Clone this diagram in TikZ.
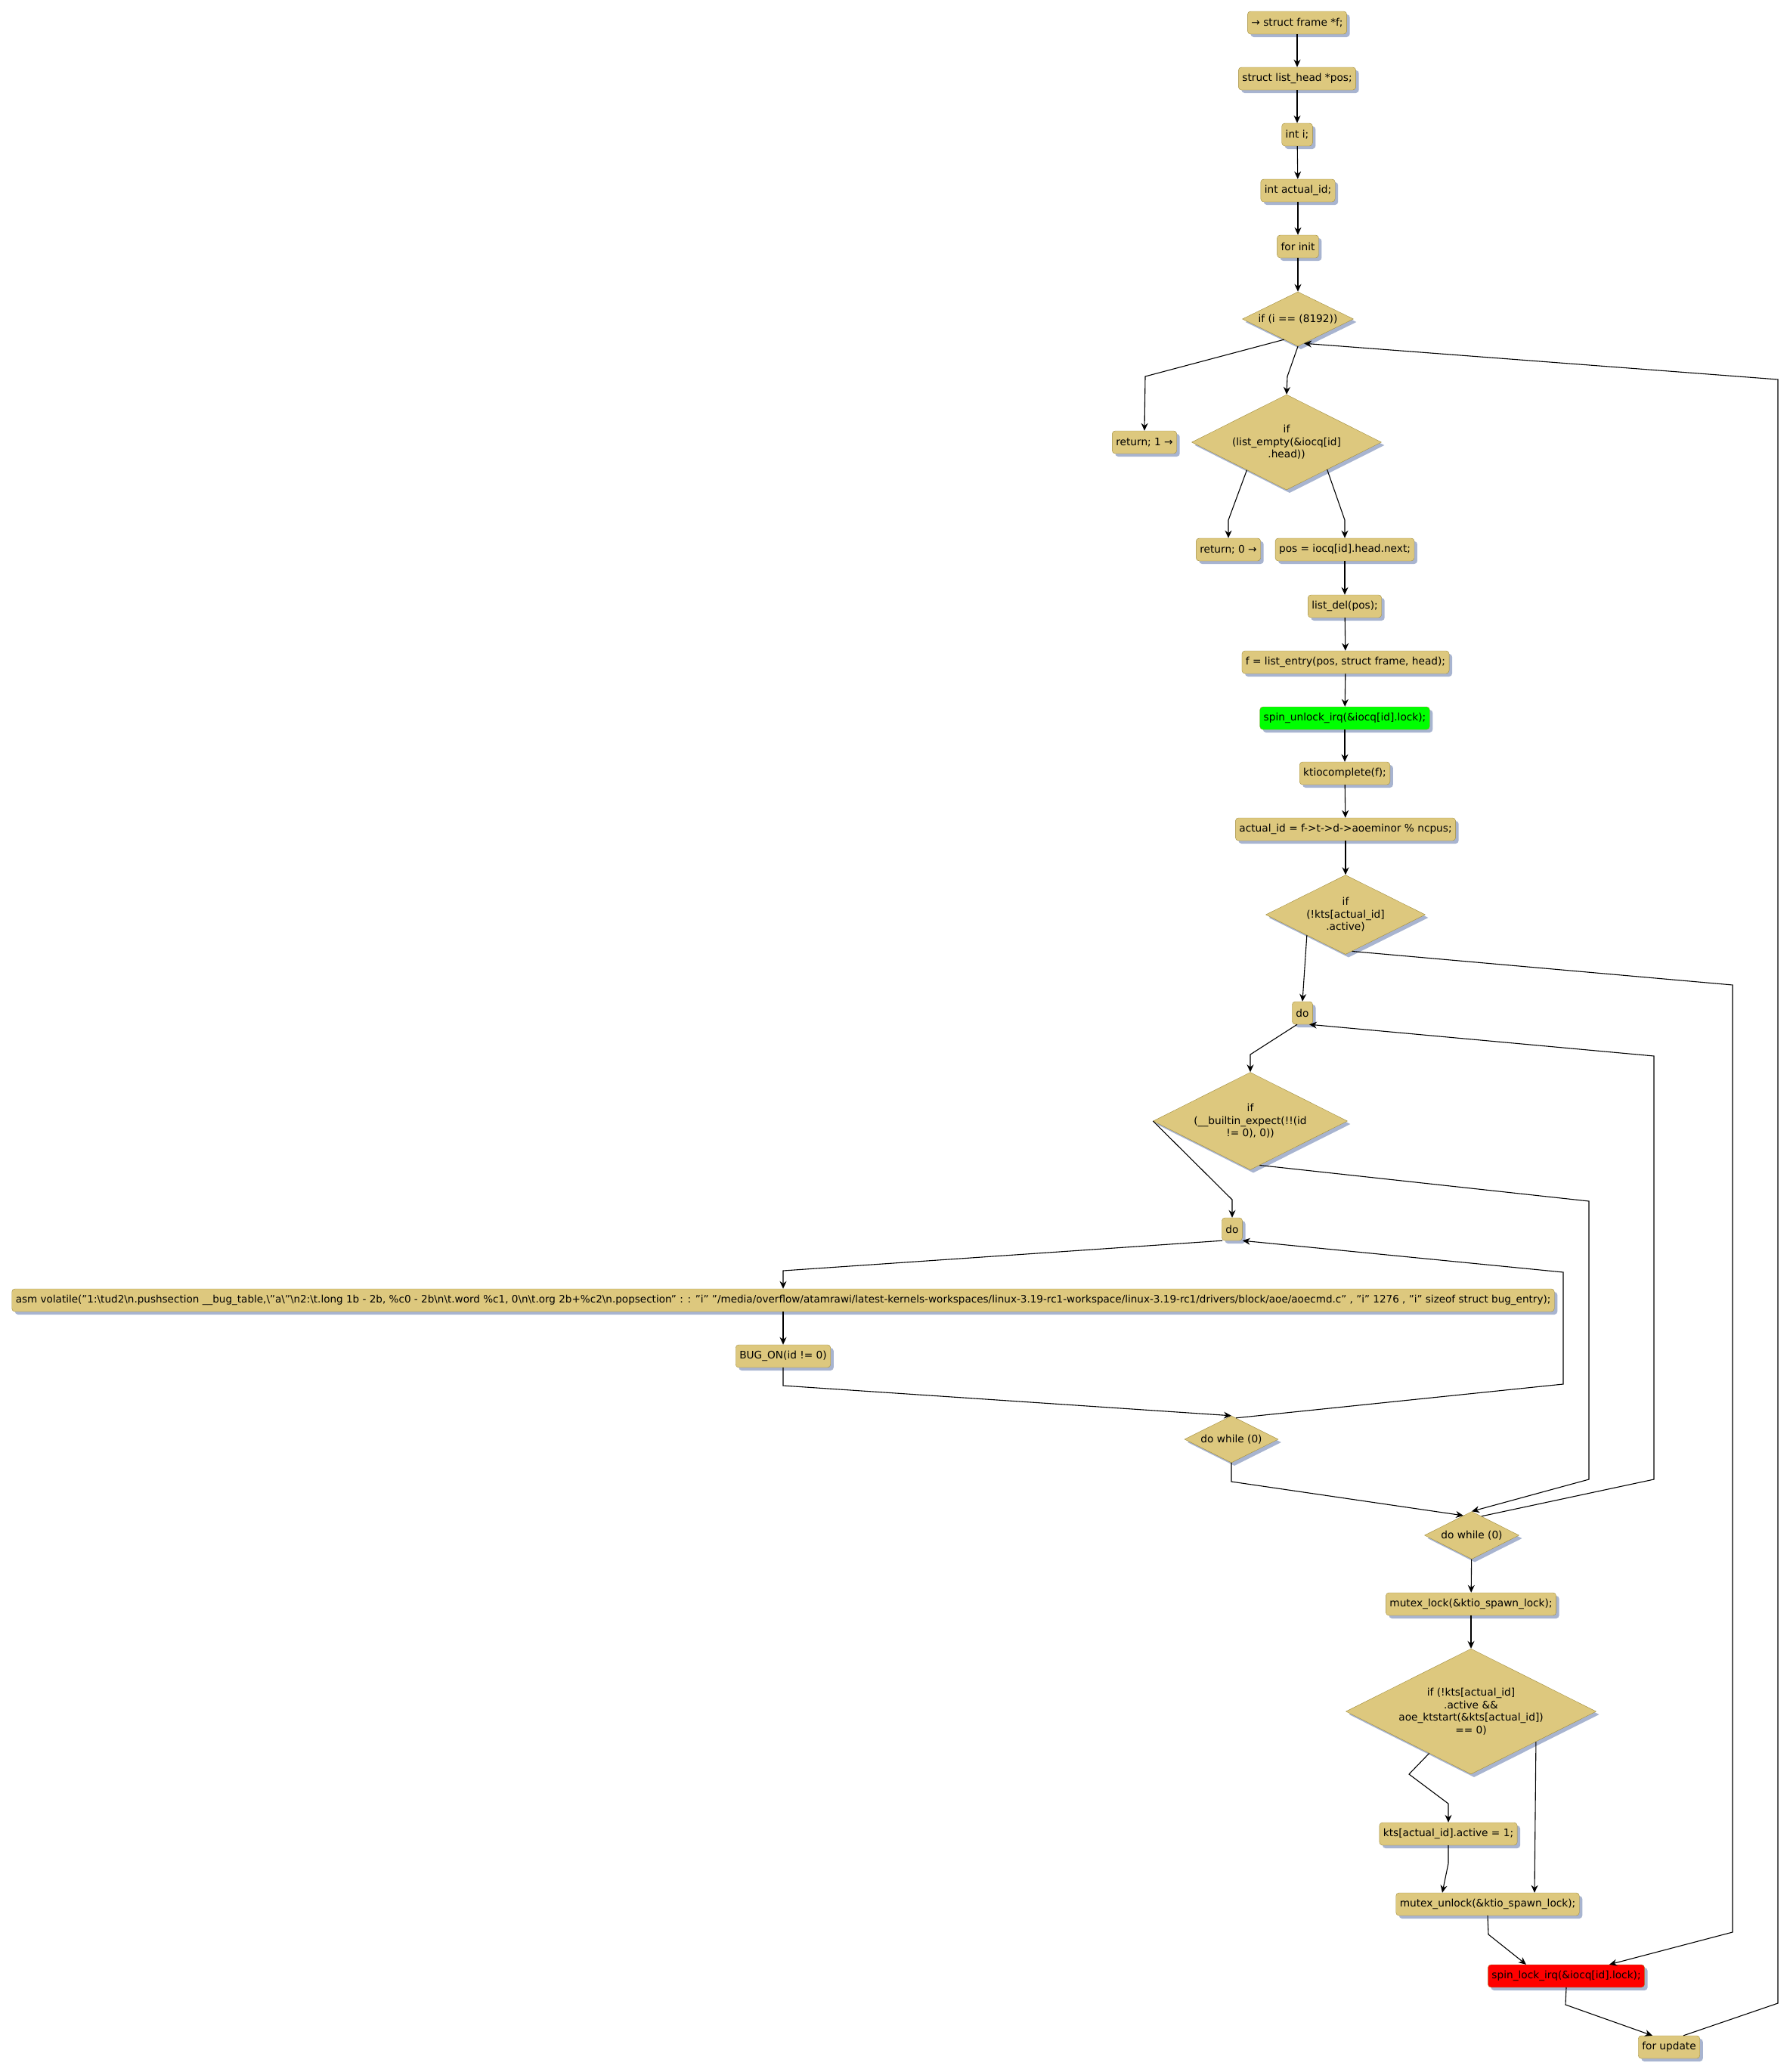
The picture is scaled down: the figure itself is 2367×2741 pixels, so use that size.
\documentclass[tikz,border=0pt]{standalone}
\usepackage{fontspec}
\setmainfont{DejaVu Sans}
\usetikzlibrary{arrows.meta,shapes.geometric,shadows}
\definecolor{boxfill}{RGB}{221,200,126}
\definecolor{boxline}{RGB}{160,140,60}
\definecolor{boxshade}{RGB}{168,180,208}
\newcommand{\bsl}{\textbackslash}
\tikzset{
  stmt/.style={draw=boxline, fill=boxfill, rounded corners=4pt, minimum height=30pt,
    inner xsep=5pt, inner ysep=0pt,
    drop shadow={shadow xshift=4pt, shadow yshift=-4pt, fill=boxshade, opacity=1}},
  cond/.style={diamond, shape aspect=2, draw=boxline, fill=boxfill, inner sep=0pt, align=center,
    drop shadow={shadow xshift=4pt, shadow yshift=-4pt, fill=boxshade, opacity=1}},
  flow/.style={-{Stealth[length=10pt,width=9pt]}, line width=1.1pt}
}

\begin{document}
\begin{tikzpicture}[x=1pt, y=-1pt, every node/.style={font=\fontsize{13.7}{16.5}\selectfont}]
\useasboundingbox (0,0) rectangle (2367,2741);

\node[stmt] (frame) at (1716,30) {→ struct frame *f;};
\node[stmt] (pos) at (1716,104) {struct list\_head *pos;};
\node[stmt] (inti) at (1716,178) {int i;};
\node[stmt] (actid) at (1717,252) {int actual\_id;};
\node[stmt] (forinit) at (1717,326) {for init};
\node[cond, minimum width=147pt, minimum height=72pt] (ifmax) at (1717,422) {if (i == (8192))};
\node[stmt] (ret1) at (1514,585) {return; 1 →};
\node[cond, minimum width=251pt, minimum height=126pt] (ifempty) at (1702,585) {if\\(list\_empty(\&iocq[id]\\.head))};
\node[stmt] (ret0) at (1625,727) {return; 0 →};
\node[stmt] (posnext) at (1779,727) {pos = iocq[id].head.next;};
\node[stmt] (listdel) at (1779,802) {list\_del(pos);};
\node[stmt] (fentry) at (1780,876) {f = list\_entry(pos, struct frame, head);};
\node[stmt, fill=green] (unlock) at (1779,950) {spin\_unlock\_irq(\&iocq[id].lock);};
\node[stmt] (ktio) at (1779,1023) {ktiocomplete(f);};
\node[stmt] (actset) at (1780,1097) {actual\_id = f->t->d->aoeminor \% ncpus;};
\node[cond, minimum width=211pt, minimum height=105pt] (ifact) at (1780,1210) {if\\(!kts[actual\_id]\\.active)};
\node[stmt] (do1) at (1723,1340) {do};
\node[cond, minimum width=257pt, minimum height=129pt] (ifbug) at (1654,1483) {if\\(\_\_builtin\_expect(!!(id\\!= 0), 0))};
\node[stmt] (do2) at (1630,1626) {do};
\node[stmt, font=\fontsize{13.55}{16.5}\selectfont] (asmv) at (1036,1720) {asm volatile("1:\bsl tud2\bsl n.pushsection \_\_bug\_table,\bsl"a\bsl"\bsl n2:\bsl t.long 1b - 2b, \%c0 - 2b\bsl n\bsl t.word \%c1, 0\bsl n\bsl t.org 2b+\%c2\bsl n.popsection" : : "i" "/media/overflow/atamrawi/latest-kernels-workspaces/linux-3.19-rc1-workspace/linux-3.19-rc1/drivers/block/aoe/aoecmd.c" , "i" 1276 , "i" sizeof struct bug\_entry);};
\node[stmt] (bugon) at (1036,1794) {BUG\_ON(id != 0)};
\node[cond, minimum width=124pt, minimum height=62pt] (while2) at (1629,1904) {do while (0)};
\node[cond, minimum width=125pt, minimum height=63pt] (while1) at (1947,2031) {do while (0)};
\node[stmt] (mlock) at (1946,2122) {mutex\_lock(\&ktio\_spawn\_lock);};
\node[cond, minimum width=331pt, minimum height=166pt] (ifstart) at (1946,2264) {if (!kts[actual\_id]\\.active \&\&\\aoe\_ktstart(\&kts[actual\_id])\\== 0)};
\node[stmt] (ktsset) at (1916,2426) {kts[actual\_id].active = 1;};
\node[stmt] (munlock) at (1968,2519) {mutex\_unlock(\&ktio\_spawn\_lock);};
\node[stmt, fill=red] (lock) at (2072,2614) {spin\_lock\_irq(\&iocq[id].lock);};
\node[stmt] (forupd) at (2208,2708) {for update};

\draw[flow] (frame) -- (pos);
\draw[flow] (pos) -- (inti);
\draw[flow] (inti) -- (actid);
\draw[flow] (actid) -- (forinit);
\draw[flow] (forinit) -- (ifmax);
\draw[flow] (ifmax.236) -- (1515,498) -- (ret1.north);
\draw[flow] (ifmax.south) -- (1703,498) -- (ifempty.north);
\draw[flow] (ifempty.215) -- (1625,688) -- (ret0.north);
\draw[flow] (ifempty.-34) -- (1779,688) -- (posnext.north);
\draw[flow] (posnext) -- (listdel);
\draw[flow] (listdel) -- (fentry);
\draw[flow] (fentry) -- (unlock);
\draw[flow] (unlock) -- (ktio);
\draw[flow] (ktio) -- (actset);
\draw[flow] (actset) -- (ifact);
\draw[flow] (ifact.208) -- (do1.north);
\draw[flow] (ifact.-80) -- (2292,1303) -- (2292,2556) -- ([xshift=57pt]lock.north);
\draw[flow] ([xshift=-7pt]do1.south) -- (1654,1395) -- (ifbug.north);
\draw[flow] (ifbug.west) -- (1630,1587) -- (do2.north);
\draw[flow] (ifbug.-78) -- (2102,1589) -- (2102,1957) -- (while1.north);
\draw[flow] ([xshift=-13pt]do2.south) -- (1036,1681) -- (asmv.north);
\draw[flow] (asmv) -- (bugon);
\draw[flow] (bugon.south) -- (1036,1833) -- (while2.north);
\draw[flow] (while2.78) -- (2068,1831) -- (2068,1683) -- (do2.south east);
\draw[flow] (while2.south) -- (1629,1960) -- (while1.113);
\draw[flow] (while1.63) -- (2188,1957) -- (2188,1397) -- ([xshift=9pt]do1.south);
\draw[flow] (while1) -- (mlock);
\draw[flow] (mlock) -- (ifstart);
\draw[flow] (ifstart.225) -- (1864,2347) -- (1916,2386) -- (ktsset.north);
\draw[flow] (ifstart.-25.5) -- ([xshift=62pt]munlock.north);
\draw[flow] (ktsset.south) -- (1916,2465) -- ([xshift=-60pt]munlock.north);
\draw[flow] (munlock.south) -- (1969,2559) -- ([xshift=-53pt]lock.north);
\draw[flow] (lock.south) -- (2071,2652) -- ([xshift=-22pt]forupd.north);
\draw[flow] ([xshift=19pt]forupd.north) -- (2352,2650) -- (2352,502) -- (ifmax.-76);

\end{tikzpicture}
\end{document}
